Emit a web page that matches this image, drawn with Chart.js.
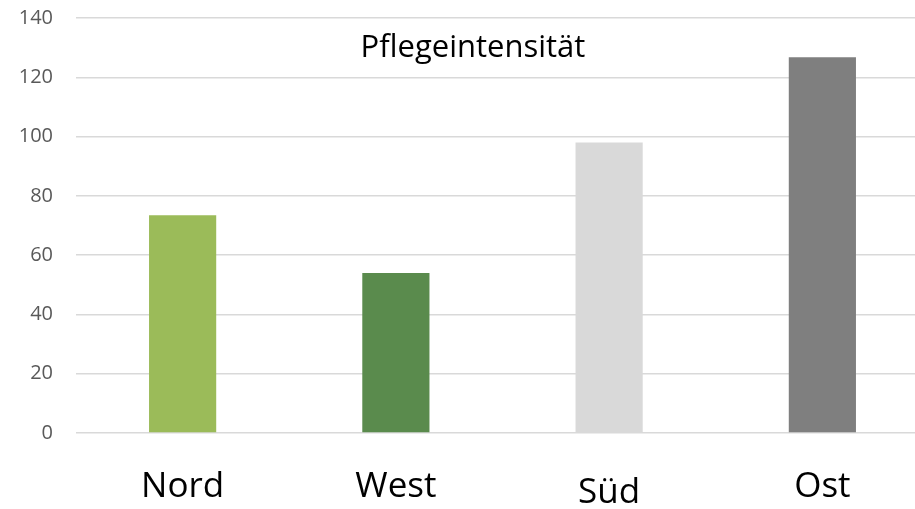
<!DOCTYPE html>
<html>
<head>
<meta charset="utf-8">
<script src="https://cdn.jsdelivr.net/npm/chart.js@4/dist/chart.umd.min.js"></script>
<style>
  html, body { margin: 0; padding: 0; background: #fff; overflow: hidden; }
  #wrap { width: 915px; height: 509px; overflow: hidden; }
</style>
</head>
<body>
<div id="wrap"><canvas id="chart" width="930" height="509"></canvas></div>
<script>
    "use strict";

    // Daten
    var regionen = ['Nord', 'West', 'Süd', 'Ost'];
    var intensitaet = [73.5, 54, 98, 126.8];
    var farben = ['#9BBB59', '#5A8B4D', '#D9D9D9', '#7F7F7F'];
    var yTicks = [0, 20, 40, 60, 80, 100, 120, 140];
    var titel = 'Pflegeintensität';

    // Titel innerhalb der Zeichenfläche
    var titelPlugin = {
        id: 'titelImDiagramm',
        afterDraw: function(chart) {
            var ctx = chart.ctx;
            ctx.save();
            ctx.font = '31px "Open Sans"';
            ctx.fillStyle = '#000';
            ctx.textAlign = 'center';
            ctx.textBaseline = 'alphabetic';
            ctx.fillText(titel, 473, 57);
            ctx.restore();
        }
    };

    var ctx = document.getElementById('chart').getContext('2d');
    new Chart(ctx, {
        type: 'bar',
        data: {
            labels: regionen,
            datasets: [{
                label: titel,
                data: intensitaet,
                backgroundColor: farben,
                borderWidth: 0,
                barPercentage: 0.315,
                categoryPercentage: 1
            }]
        },
        options: {
            responsive: false,
            animation: false,
            layout: { padding: { top: 18, right: 1, left: 0, bottom: 0 } },
            plugins: {
                legend: { display: false },
                title: { display: false },
                tooltip: { enabled: false }
            },
            scales: {
                x: {
                    grid: { display: false, drawTicks: false },
                    border: { display: false },
                    ticks: {
                        color: '#000',
                        padding: 33,
                        font: function(c) {
                            var lh = (c.index === 2) ? 54 : 42;
                            return { family: '"Open Sans"', size: 35, lineHeight: lh + 'px' };
                        }
                    },
                    afterFit: function(s) {
                        s.height = 76;
                        s.paddingLeft = 0; s.paddingRight = 0;
                        s.paddingTop = 0; s.paddingBottom = 0;
                    }
                },
                y: {
                    min: 0,
                    max: 140,
                    afterBuildTicks: function(s) {
                        s.ticks = yTicks.map(function(v) { return { value: v }; });
                    },
                    grid: { color: '#D9D9D9', lineWidth: 1.5, drawTicks: false },
                    border: { display: false },
                    ticks: {
                        color: '#595959',
                        padding: 23,
                        font: { family: '"Open Sans"', size: 20 }
                    },
                    afterFit: function(s) {
                        s.width = 76;
                        s.paddingTop = 0; s.paddingBottom = 0;
                        s.paddingLeft = 0; s.paddingRight = 0;
                    }
                }
            }
        },
        plugins: [titelPlugin]
    });
</script>
</body>
</html>
